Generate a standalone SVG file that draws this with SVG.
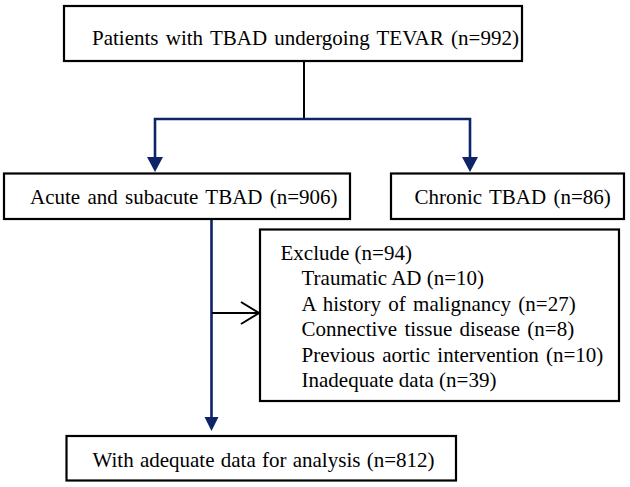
<svg xmlns="http://www.w3.org/2000/svg" width="630" height="487" viewBox="0 0 630 487">
<defs>
<style>
.box{fill:#fff;stroke:#000;stroke-width:2.2}
.blue{fill:none;stroke:#0f2468;stroke-width:2.6}
.head{fill:#0f2468}
.blk{fill:none;stroke:#000;stroke-width:2}
</style>
</defs>
<rect width="630" height="487" fill="#fff"/>
<g id="connectors">
<line class="blk" x1="304" y1="61" x2="304" y2="119"/>
<polyline class="blue" points="155,160 155,119 470,119 470,160"/>
<polygon class="head" points="147,157 163,157 155,172"/>
<polygon class="head" points="462,157 478,157 470,172"/>
<line class="blue" x1="211.5" y1="219" x2="211.5" y2="420"/>
<polygon class="head" points="204.5,417 218.5,417 211.5,431"/>
<line class="blk" x1="212" y1="313" x2="259" y2="313"/>
<polyline class="blk" points="241,302 259,313 241,324"/>
</g>
<g font-family="Liberation Serif" font-size="21">
<g id="n1">
<rect class="box" x="64" y="6" width="458" height="55"/>
<text x="92" y="45" word-spacing="2">Patients with TBAD undergoing TEVAR (n=992)</text>
</g>
<g id="n2">
<rect class="box" x="4" y="173.5" width="346" height="45.5"/>
<text x="30" y="203.5" word-spacing="2">Acute and subacute TBAD (n=906)</text>
</g>
<g id="n3">
<rect class="box" x="391" y="173.5" width="233" height="45.5"/>
<text x="414.5" y="203.5" word-spacing="2">Chronic TBAD (n=86)</text>
</g>
<g id="n4">
<rect class="box" x="260" y="229.5" width="359" height="171.5"/>
<text x="280.5" y="259.5">Exclude (n=94)</text>
<text x="301.5" y="285">Traumatic AD (n=10)</text>
<text x="301.5" y="310.5" word-spacing="2">A history of malignancy (n=27)</text>
<text x="301.5" y="336" word-spacing="2">Connective tissue disease (n=8)</text>
<text x="301.5" y="361.5" word-spacing="2">Previous aortic intervention (n=10)</text>
<text x="301.5" y="386.5">Inadequate data (n=39)</text>
</g>
<g id="n5">
<rect class="box" x="66.5" y="436" width="389.5" height="44.5"/>
<text x="92.5" y="466.5" word-spacing="1">With adequate data for analysis (n=812)</text>
</g>
</g>
</svg>
